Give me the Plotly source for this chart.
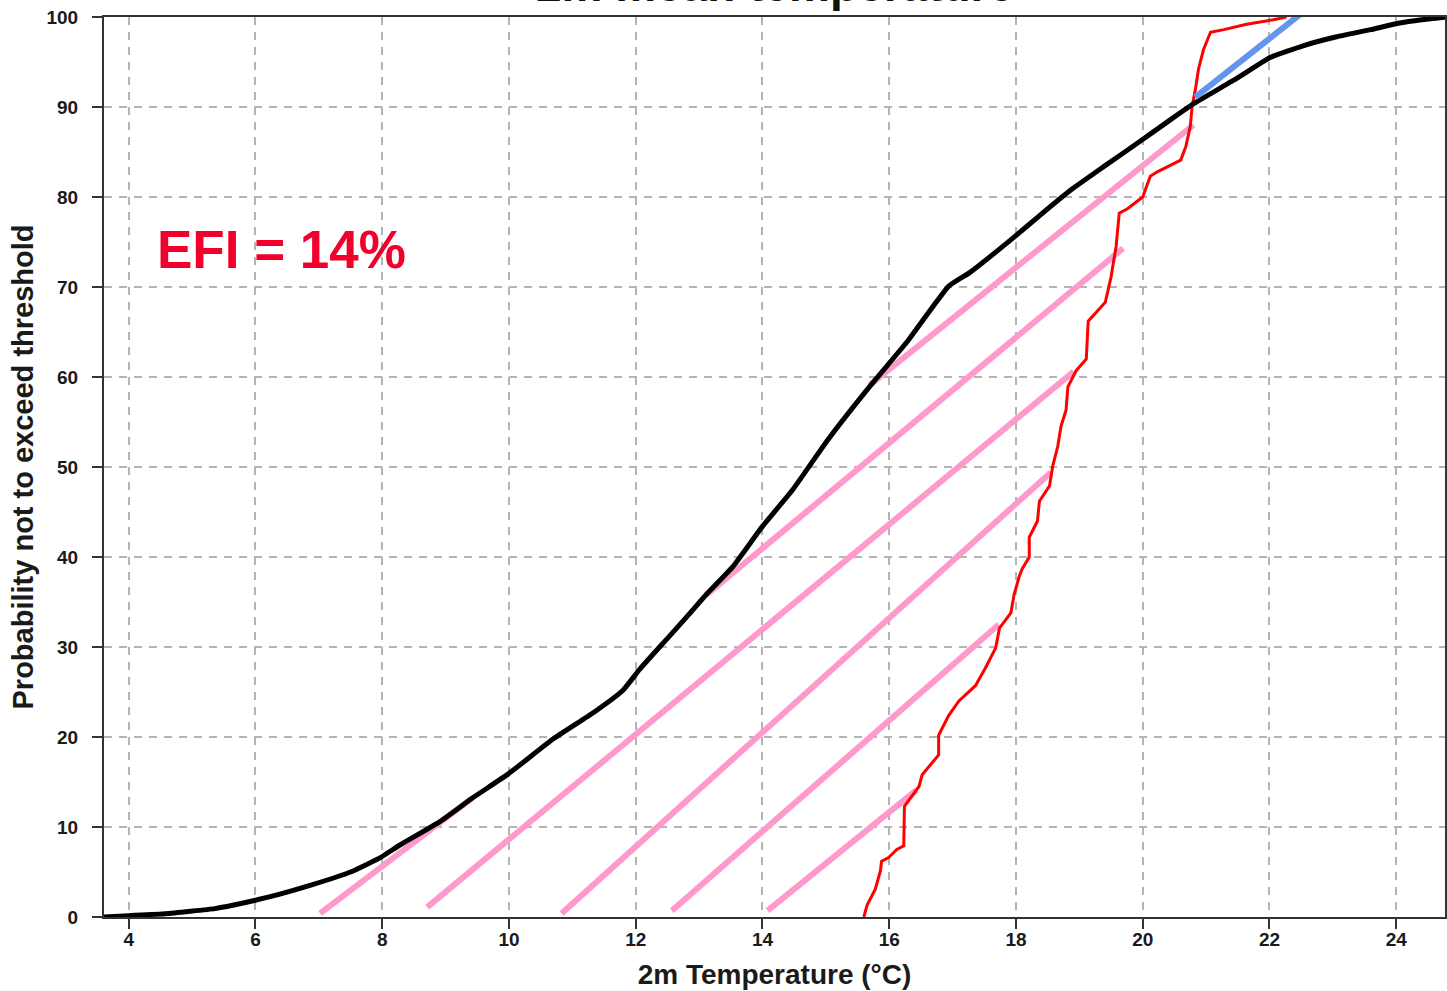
import plotly.graph_objects as go

# Climate (model climate) CDF - black
clim_t = [3.6, 4.0, 4.58, 5.36, 5.64, 6.2, 6.9, 7.5, 7.97, 8.28, 8.91, 9.44, 9.99, 10.70, 11.33,
          11.80, 12.06, 12.48, 12.85, 13.11, 13.53, 14.0, 14.48, 15.03, 15.71, 16.27, 16.94, 17.27,
          17.98, 18.35, 18.87, 19.39, 19.92, 20.44, 20.81, 21.49, 22.01, 22.53, 23.06, 23.6, 24.03,
          24.4, 24.8]
clim_p = [0, 0.15, 0.37, 0.93, 1.3, 2.2, 3.6, 5.0, 6.6, 8.0, 10.6, 13.3, 15.9, 19.8, 22.7,
          25.2, 27.5, 30.8, 33.7, 35.8, 38.9, 43.4, 47.5, 53.0, 59.1, 63.8, 70.1, 71.6,
          75.6, 77.8, 80.8, 83.4, 86.0, 88.6, 90.4, 93.2, 95.5, 96.8, 97.8, 98.6, 99.3,
          99.7, 100]

# Ensemble forecast CDF - red
ens_t = [15.6, 15.65, 15.78, 15.86, 15.88, 15.99, 16.12, 16.23, 16.24, 16.33, 16.47, 16.52, 16.78,
         16.78, 16.94, 17.1, 17.36, 17.52, 17.68, 17.74, 17.92, 17.97, 18.05, 18.1, 18.21, 18.21,
         18.34, 18.37, 18.53, 18.58, 18.66, 18.71, 18.79, 18.82, 18.95, 19.11, 19.14, 19.41, 19.5,
         19.58, 19.63, 19.76, 20.0, 20.12, 20.23, 20.6, 20.68, 20.75, 20.78, 20.83, 20.88, 20.96,
         21.07, 21.28, 21.64, 22.06, 22.27]
ens_p = [0, 1.3, 3.1, 5.1, 6.2, 6.6, 7.5, 7.9, 12.3, 13.2, 14.5, 15.8, 18.0,
         20.2, 22.4, 24.0, 25.7, 27.7, 29.9, 32.1, 33.8, 35.8, 37.8, 38.7, 40.0, 42.2,
         44.0, 46.2, 47.9, 50.1, 52.3, 54.5, 56.3, 58.9, 60.7, 62.0, 66.2, 68.3, 71.1,
         74.5, 78.2, 78.7, 80.0, 82.3, 82.8, 84.1, 85.6, 87.8, 90.1, 91.9, 94.2, 96.4,
         98.3, 98.6, 99.2, 99.7, 100]

# Pink hatch segments (start temp, start prob, end temp, end prob)
hatch_t0 = [7.02, 8.71, 10.83, 12.57, 14.08, 13.12, 15.69]
hatch_p0 = [0.4, 1.1, 0.4, 0.7, 0.7, 35.8, 59.1]
hatch_t1 = [9.42, 18.91, 18.55, 17.73, 16.43, 19.69, 20.80]
hatch_p1 = [13.2, 60.6, 49.4, 32.5, 14.1, 74.3, 88.0]

# Blue segment
blue_t = [20.83, 22.54]
blue_p = [91.1, 100.6]

x_ticks = [4, 6, 8, 10, 12, 14, 16, 18, 20, 22, 24]
y_ticks = [0, 10, 20, 30, 40, 50, 60, 70, 80, 90, 100]

FONT = "Liberation Sans, Arial, Helvetica, sans-serif"

fig = go.Figure()

for t0, p0, t1, p1 in zip(hatch_t0, hatch_p0, hatch_t1, hatch_p1):
    fig.add_trace(go.Scatter(x=[t0, t1], y=[p0, p1], mode="lines",
                             line=dict(color="#FF99CC", width=6), hoverinfo="skip"))

fig.add_trace(go.Scatter(x=ens_t, y=ens_p, mode="lines",
                         line=dict(color="#FF0000", width=3), hoverinfo="skip"))
fig.add_trace(go.Scatter(x=clim_t, y=clim_p, mode="lines", line_shape="spline",
                         line=dict(color="#000000", width=5, smoothing=0.4), hoverinfo="skip"))
fig.add_trace(go.Scatter(x=blue_t, y=blue_p, mode="lines",
                         line=dict(color="#6495ED", width=6), hoverinfo="skip"))

axis_common = dict(
    showline=True, linecolor="#333333", linewidth=2, mirror=True,
    ticks="outside", ticklen=10, tickwidth=2, tickcolor="#333333",
    showgrid=True, gridcolor="#b4b4b4", gridwidth=1.5, griddash="8px,7px",
    zeroline=False,
    tickfont=dict(family=FONT, size=19, color="#1a1a1a", weight="bold"),
)

fig.update_layout(
    width=1447, height=991,
    margin=dict(l=104, r=0, t=17, b=74),
    paper_bgcolor="white", plot_bgcolor="white",
    showlegend=False,
    xaxis=dict(range=[3.61, 24.77], tickvals=x_ticks, ticklabelstandoff=-6, **axis_common,
               title=dict(text="2m Temperature (°C)",
                          font=dict(family=FONT, size=28, color="#1a1a1a", weight="bold"),
                          standoff=16)),
    yaxis=dict(range=[0, 100], tickvals=y_ticks, ticklabelstandoff=10, **axis_common,
               title=dict(text="Probability not to exceed threshold",
                          font=dict(family=FONT, size=29, color="#1a1a1a", weight="bold"),
                          standoff=4)),
    annotations=[
        dict(text="EFI = 14%", xref="paper", yref="paper", x=0.132, y=0.742,
             xanchor="center", yanchor="middle", showarrow=False,
             font=dict(family=FONT, size=53, color="#F0002A", weight="bold")),
        dict(text="2m mean temperature", xref="paper", yref="paper", x=0.5, y=1.0045,
             xanchor="center", yanchor="bottom", showarrow=False,
             font=dict(family=FONT, size=46, color="#111111", weight="bold")),
    ],
)

fig.write_html("out.html")
